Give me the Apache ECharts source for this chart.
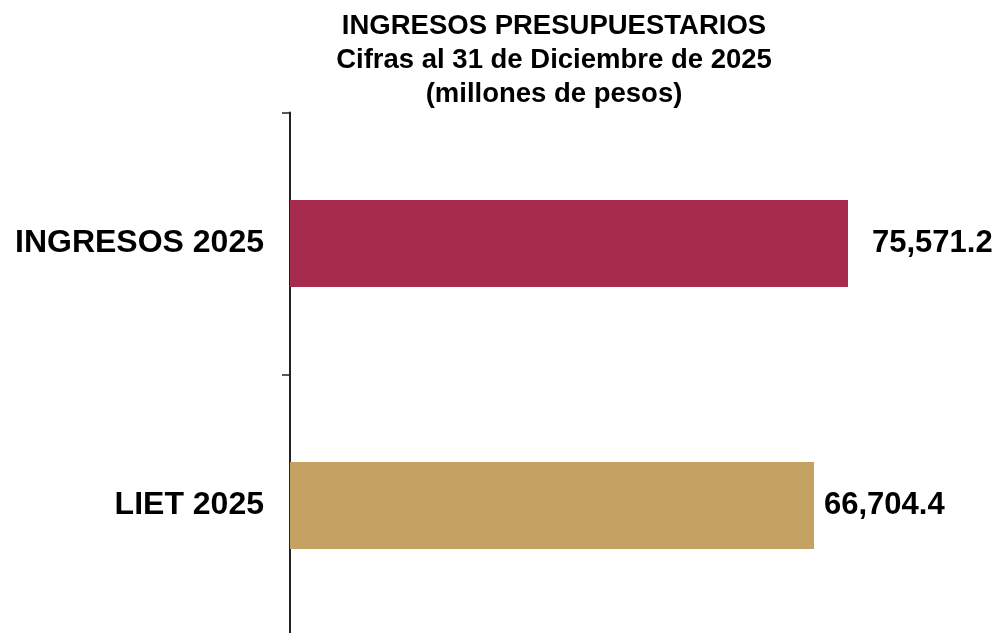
<!DOCTYPE html>
<html>
<head>
<meta charset="utf-8">
<script src="https://cdn.jsdelivr.net/npm/echarts@6/dist/echarts.min.js"></script>
<style>
  html, body { margin: 0; padding: 0; background: #ffffff; }
  #chart { width: 994px; height: 633px; }
</style>
</head>
<body>
<div id="chart"></div>
<script>
  // datos del grafico
  const categorias = ['INGRESOS 2025', 'LIET 2025'];
  const valores = [75571.2, 66704.4];
  const colores = ['#A62B4D', '#C4A264'];

  const fuente = "'Liberation Sans', Arial, sans-serif";

  let chart = echarts.init(document.getElementById('chart'));

  chart.setOption({
    backgroundColor: '#ffffff',
    title: {
      text: 'INGRESOS PRESUPUESTARIOS\nCifras al 31 de Diciembre de 2025\n(millones de pesos)',
      left: 554,
      textAlign: 'center',
      top: 9,
      padding: 0,
      textStyle: {
        fontFamily: fuente,
        fontSize: 27.5,
        fontWeight: 'bold',
        color: '#000',
        lineHeight: 34
      }
    },
    grid: {
      left: 290,
      right: 33,
      top: 112.5,
      height: 524,
      outerBoundsMode: 'none'
    },
    xAxis: {
      // escala log oculta para que los largos de barra coincidan con la imagen
      type: 'log',
      min: 9743,
      max: 114420,
      show: false
    },
    yAxis: {
      type: 'category',
      inverse: true,
      data: categorias,
      axisLine: {
        show: true,
        lineStyle: { color: '#222', width: 2 }
      },
      axisTick: {
        show: true,
        length: 8,
        lineStyle: { color: '#222', width: 1.5 }
      },
      axisLabel: {
        margin: 26,
        fontFamily: fuente,
        fontSize: 32,
        fontWeight: 'bold',
        color: '#000'
      },
      splitLine: { show: false }
    },
    series: [{
      type: 'bar',
      barWidth: 87,
      clip: true,
      data: valores.map((v, i) => ({
        value: v,
        itemStyle: { color: colores[i] },
        label: { distance: i === 0 ? 24 : 10 }
      })),
      label: {
        show: true,
        position: 'right',
        fontFamily: fuente,
        fontSize: 31,
        fontWeight: 'bold',
        color: '#000',
        formatter: p => p.value.toLocaleString('en-US', { minimumFractionDigits: 1, maximumFractionDigits: 1 })
      }
    }]
  });
</script>
</body>
</html>
